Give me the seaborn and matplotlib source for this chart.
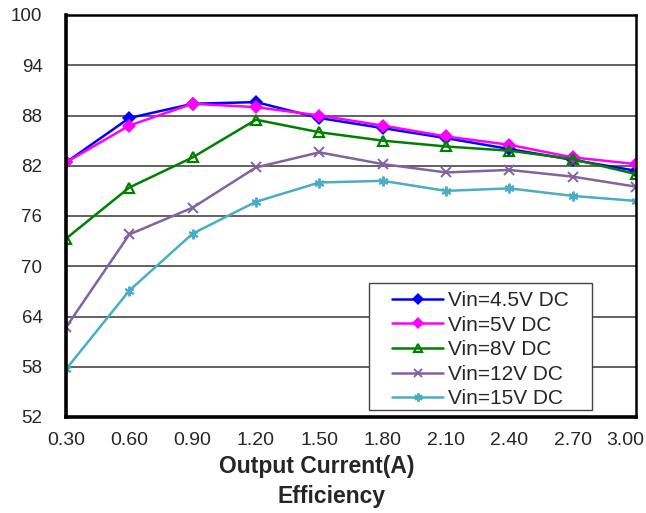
import pandas as pd
import matplotlib.pyplot as plt
import matplotlib.transforms as mtransforms
from matplotlib.patches import Rectangle
import seaborn as sns

# dados
corrente = [0.30, 0.60, 0.90, 1.20, 1.50, 1.80, 2.10, 2.40, 2.70, 3.00]
vin_4v5 = [82.4, 87.7, 89.4, 89.6, 87.7, 86.5, 85.3, 84.0, 82.7, 81.4]
vin_5v = [82.4, 86.8, 89.4, 89.0, 88.0, 86.8, 85.5, 84.5, 83.0, 82.2]
vin_8v = [73.3, 79.4, 83.0, 87.5, 86.0, 85.0, 84.3, 83.8, 82.8, 81.0]
vin_12v = [62.7, 73.8, 77.0, 81.8, 83.6, 82.2, 81.2, 81.5, 80.7, 79.5]
vin_15v = [57.7, 67.1, 73.9, 77.7, 80.0, 80.2, 79.0, 79.3, 78.4, 77.8]

series = ['Vin=4.5V DC', 'Vin=5V DC', 'Vin=8V DC', 'Vin=12V DC', 'Vin=15V DC']
valores = [vin_4v5, vin_5v, vin_8v, vin_12v, vin_15v]
cores = ['#0000FF', '#FF00FF', '#008000', '#8064A2', '#4BACC6']
marcadores = ['D', 'D', '^', 'x', (6, 2, 0)]

sns.set_style('white')
plt.rcParams['font.family'] = ['Liberation Sans', 'DejaVu Sans']

fig = plt.figure(figsize=(6.46, 5.13), dpi=100)
ax = fig.add_axes([66 / 646, 1 - 417 / 513, 570 / 646, 402 / 513])

for nome, vals, cor, mk in zip(series, valores, cores, marcadores):
    df = pd.DataFrame({'corrente': corrente, 'eficiencia': vals})
    if mk == '^':
        extra = dict(markerfacecolor='none', markeredgewidth=1.6)
    elif mk == 'D':
        extra = dict(markeredgewidth=0)
    else:
        extra = dict(markeredgewidth=1.4)
    sns.lineplot(data=df, x='corrente', y='eficiencia', color=cor, marker=mk,
                 markersize=7, linewidth=1.8, markeredgecolor=cor, label=nome,
                 ax=ax, **extra)

ax.set_xlim(0.30, 3.00)
ax.set_ylim(52, 100)
ax.set_xticks(corrente)
ax.set_xticklabels([f'{c:.2f}' for c in corrente])
ax.set_yticks(range(52, 101, 6))
ax.yaxis.grid(True, color='#555555', linewidth=1.3)
ax.xaxis.grid(False)
ax.set_axisbelow(True)

for lado in ['left', 'bottom']:
    ax.spines[lado].set_linewidth(2.6)
    ax.spines[lado].set_color('black')
for lado in ['top', 'right']:
    ax.spines[lado].set_linewidth(1.8)
    ax.spines[lado].set_color('black')

ax.tick_params(axis='y', direction='in', length=5, width=2, labelsize=13.5, pad=17)
ax.tick_params(axis='x', direction='out', length=3.6, width=2, labelsize=14, pad=7)
ax.set_xlabel('')
ax.set_ylabel('')

# ultimo rotulo do eixo x deslocado para caber na figura
ultimo = ax.get_xticklabels()[-1]
ultimo.set_transform(ultimo.get_transform() +
                     mtransforms.ScaledTranslation(-11 / 100, 0, fig.dpi_scale_trans))

fig.text(317 / 646, 1 - 466 / 513, 'Output Current(A)', ha='center', va='center',
         fontsize=16.5, fontweight='bold')
fig.text(332 / 646, 1 - 497 / 513, 'Efficiency', ha='center', va='center',
         fontsize=16.5, fontweight='bold')

# caixa da legenda desenhada a parte
caixa = Rectangle((369 / 646, 1 - 410 / 513), 223 / 646, 127 / 513,
                  transform=fig.transFigure, facecolor='white',
                  edgecolor='#444444', linewidth=1.0, zorder=4, clip_on=False)
ax.add_patch(caixa)

leg = ax.legend(loc='upper left', bbox_to_anchor=(392 / 646, 1 - 291 / 513),
                bbox_transform=fig.transFigure, fontsize=15, frameon=False,
                handlelength=2.45, handletextpad=0.25, labelspacing=0.27,
                borderpad=0, borderaxespad=0)
leg.set_zorder(5)
for h in leg.legend_handles:
    h.set_markersize(6)

plt.savefig('out.png', dpi=100)
